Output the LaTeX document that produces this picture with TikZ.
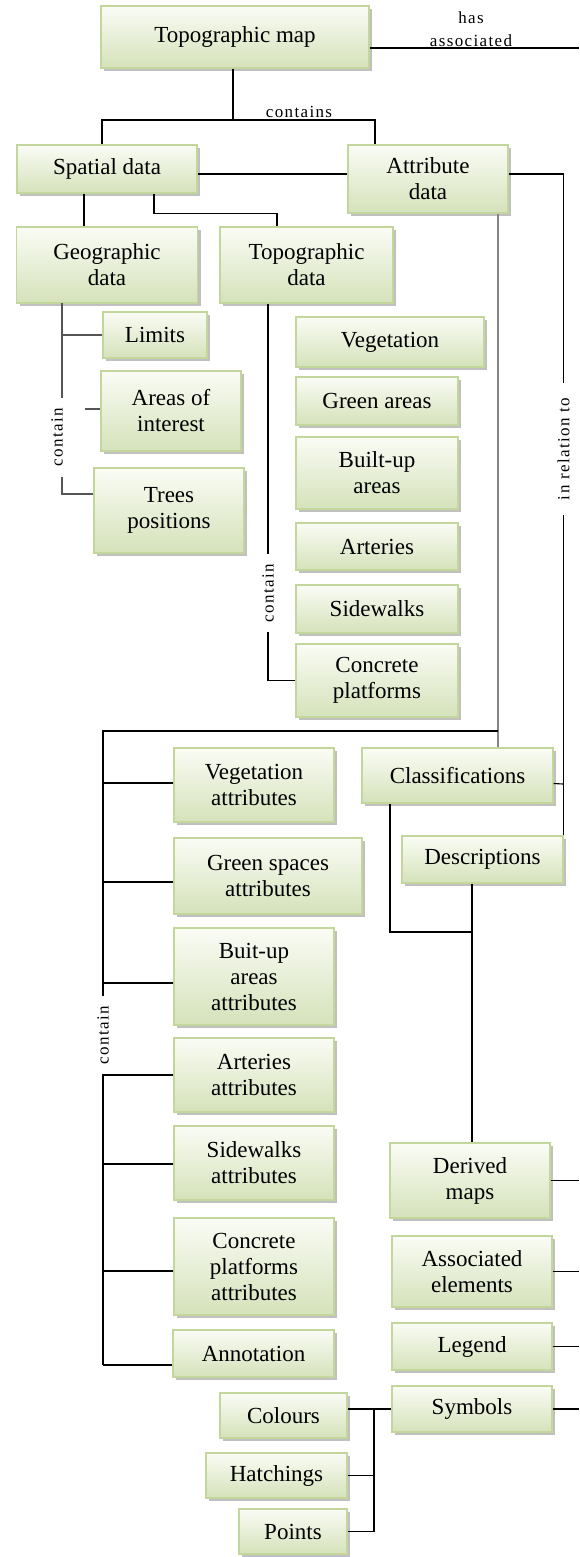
\documentclass[tikz,border=0pt]{standalone}
\usepackage{fontspec}
\setmainfont{Liberation Serif}
\newfontfamily\tagfont[LetterSpace=8]{Liberation Serif}
\usepackage{xcolor}
\definecolor{leafedge}{HTML}{C3D69B}
\definecolor{leaftop}{HTML}{FAFCF5}
\definecolor{leafbottom}{HTML}{D5E2BA}
\definecolor{wiregray}{HTML}{858585}
\definecolor{wiredark}{HTML}{555555}
\usepackage{tikz}
\usetikzlibrary{shadows,calc}

\begin{document}
\begin{tikzpicture}[x=1pt, y=-1pt,
  box/.style={draw=leafedge, line width=1.2pt, top color=leaftop, bottom color=leafbottom,
              drop shadow={shadow xshift=3pt, shadow yshift=-3pt, fill=black!45, opacity=0.55},
              align=center, inner sep=0pt, font=\fontsize{23}{26}\selectfont},
  wire/.style={draw=black, line width=1.1pt},
  greywire/.style={draw=wiregray, line width=2.4pt},
  darkwire/.style={draw=wiredark, line width=1.8pt},
  tag/.style={font=\tagfont\fontsize{17}{19}\selectfont, fill=white, inner xsep=9pt, inner ysep=2pt}
]
  \useasboundingbox (0,0) rectangle (579,1557);

  % top levels
  \node[box, minimum width=268pt, minimum height=62pt] (topmap) at (235,37) {Topographic map};
  \node[box, minimum width=180pt, minimum height=48pt] (spatial) at (107,169) {Spatial data};
  \node[box, minimum width=160pt, minimum height=68pt] (attrib) at (428,179) {Attribute\\data};
  \node[box, minimum width=181pt, minimum height=76pt] (geodata) at (107,265) {Geographic\\data};
  \node[box, minimum width=173pt, minimum height=76pt] (topodata) at (306.5,265) {Topographic\\data};

  % geographic data side
  \node[box, minimum width=104pt, minimum height=46pt] (limits) at (155,335) {Limits};
  \node[box, minimum width=140pt, minimum height=80pt] (interest) at (171,411) {Areas of\\interest};
  \node[box, minimum width=150pt, minimum height=85pt] (trees) at (169,510.5) {Trees\\positions};

  % topographic data side
  \node[box, minimum width=188pt, minimum height=50pt] (veg) at (390,342) {Vegetation};
  \node[box, minimum width=162pt, minimum height=48pt] (green) at (377,401) {Green areas};
  \node[box, minimum width=162pt, minimum height=72pt] (builtup) at (377,473) {Built-up\\areas};
  \node[box, minimum width=162pt, minimum height=47pt] (arteries) at (377,546.5) {Arteries};
  \node[box, minimum width=162pt, minimum height=48pt] (sidewalks) at (377,609) {Sidewalks};
  \node[box, minimum width=162pt, minimum height=73pt] (concrete) at (377,680.5) {Concrete\\platforms};

  % attribute data side
  \node[box, minimum width=160pt, minimum height=74pt] (vegattr) at (254,785) {Vegetation\\attributes};
  \node[box, minimum width=188pt, minimum height=76pt] (greenattr) at (268,876) {Green spaces\\attributes};
  \node[box, minimum width=160pt, minimum height=97pt] (builtattr) at (254,976.5) {Buit-up\\areas\\attributes};
  \node[box, minimum width=160pt, minimum height=74pt] (artattr) at (254,1075) {Arteries\\attributes};
  \node[box, minimum width=160pt, minimum height=74pt] (sideattr) at (254,1163) {Sidewalks\\attributes};
  \node[box, minimum width=160pt, minimum height=97pt] (concattr) at (254,1266.5) {Concrete\\platforms\\attributes};
  \node[box, minimum width=161pt, minimum height=47pt] (annot) at (253.5,1353.5) {Annotation};

  \node[box, minimum width=191pt, minimum height=55pt] (classif) at (457.5,775.5) {Classifications};
  \node[box, minimum width=161pt, minimum height=47pt] (descr) at (482.5,859.5) {Descriptions};
  \node[box, minimum width=160pt, minimum height=75pt] (derived) at (470,1180.5) {Derived\\maps};
  \node[box, minimum width=160pt, minimum height=71pt] (assoc) at (472,1271.5) {Associated\\elements};
  \node[box, minimum width=160pt, minimum height=47pt] (legend) at (472,1346.5) {Legend};
  \node[box, minimum width=160pt, minimum height=46pt] (symbols) at (472,1409) {Symbols};

  % symbol kinds
  \node[box, minimum width=127pt, minimum height=45pt] (colours) at (283.5,1415.5) {Colours};
  \node[box, minimum width=141pt, minimum height=45pt] (hatch) at (276.5,1475.5) {Hatchings};
  \node[box, minimum width=108pt, minimum height=45pt] (points) at (293,1531.5) {Points};

  % free ends and joints
  \coordinate (hasend) at (579,48);
  \coordinate (rim) at (579,0);
  \coordinate (cj) at (233,120);
  \coordinate (relhook) at (563,784);
  \coordinate (geobar) at (62,303);
  \coordinate (stub) at (85,409);
  \coordinate (aj) at (498,731);
  \coordinate (ab) at (103,731);
  \coordinate (abend) at (103,1365);
  \coordinate (dj) at (472,932);
  \coordinate (symbar) at (374,1409);

  % upper links
  \draw[wire] ([yshift=-11pt]topmap.east) -- (hasend);
  \draw[wire] ([xshift=-2pt]topmap.south) -- (cj);
  \draw[wire] ([xshift=-5pt]spatial.north) |- (cj) -| ([xshift=-53pt]attrib.north);
  \draw[wire] ([yshift=-5pt]spatial.east) -- ([yshift=5pt]attrib.west);
  \draw[wire] ([xshift=-23pt]spatial.south) -- ([xshift=-23pt]geodata.north);
  \draw[wire] ([xshift=47pt]spatial.south) -- ++(0,20) -| ([xshift=-29.5pt]topodata.north);
  \draw[wire] ([yshift=5pt]attrib.east) -| (descr.north east)
    node[tag, rotate=90, pos=0.708, inner xsep=15pt] {in relation to};
  \draw[wire] ([yshift=-8pt]classif.east) -- (relhook);
  \draw[greywire] ([xshift=70pt]attrib.south) -- ([xshift=40.5pt]classif.north);

  % geographic contain
  \draw[darkwire] (geobar) |- ([yshift=16.5pt]trees.west);
  \draw[darkwire] (limits.west) -- (limits.west -| geobar);
  \draw[darkwire] (stub) -- (stub -| interest.west);
  \node[tag] (geocontain) at (57,437.5) [rotate=90, inner xsep=10pt] {contain};

  % topographic contain
  \draw[wire] ([xshift=-38.5pt]topodata.south) |- (concrete.west);
  \node[tag] (topocontain) at (268,593) [rotate=90, inner xsep=10pt] {contain};

  % attribute contain
  \draw[wire] (aj) -- (ab) -- (abend);
  \foreach \n/\dy in {vegattr/-2, greenattr/6, builtattr/6.5, artattr/0, sideattr/1, concattr/4.5, annot/11.5} {
    \draw[wire] ($(\n.west)+(0,\dy)$) -- ($(\n.west -| ab)+(0,\dy)$);
  }
  \node[tag] (attrcontain) at (103,1035) [rotate=90, inner xsep=10pt] {contain};

  % derived products
  \draw[wire] ([xshift=-67.5pt]classif.south) |- (dj);
  \draw[wire] ([xshift=-10.5pt]descr.south) -- ([xshift=2pt]derived.north);
  \foreach \n in {derived, assoc, legend, symbols} {
    \draw[wire] (\n.east) -- (\n.east -| rim);
  }
  \draw[wire] (symbols.west) -- (symbols.west -| colours.east);
  \draw[wire] (symbar) |- (points.east);
  \draw[wire] (hatch.east) -- (hatch.east -| symbar);

  % Labels
  \node[tag, fill=none, align=center, font=\tagfont\fontsize{17}{23}\selectfont] (hasassoc) at (471,29) {has\\associated};
  \node[tag, fill=none, anchor=base] (contains) at (299,118) {contains};
\end{tikzpicture}
\end{document}
